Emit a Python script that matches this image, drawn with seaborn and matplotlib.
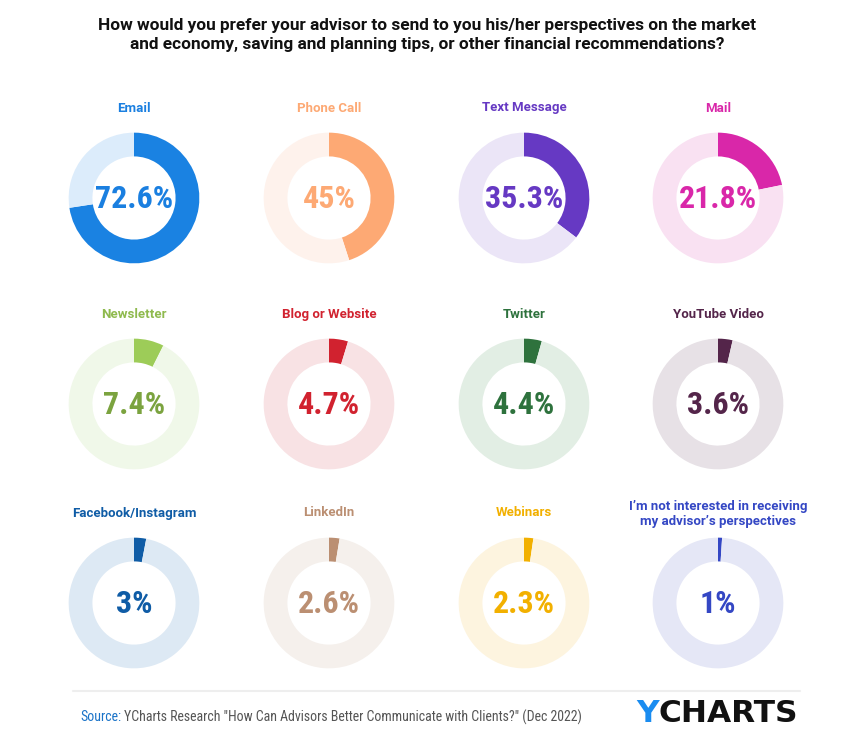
import matplotlib
matplotlib.use("Agg")
import matplotlib.pyplot as plt
import seaborn as sns
import pandas as pd

# ---- data ----
categories = ["Email", "Phone Call", "Text Message", "Mail",
              "Newsletter", "Blog or Website", "Twitter", "YouTube Video",
              "Facebook/Instagram", "LinkedIn", "Webinars",
              "I\u2019m not interested in receiving\nmy advisor\u2019s perspectives"]
values = [72.6, 45, 35.3, 21.8, 7.4, 4.7, 4.4, 3.6, 3, 2.6, 2.3, 1]
value_labels = ["72.6%", "45%", "35.3%", "21.8%", "7.4%", "4.7%", "4.4%", "3.6%",
                "3%", "2.6%", "2.3%", "1%"]
main_colors = ["#1a82e2", "#fda974", "#6639c3", "#d927a9",
               "#9dcc58", "#d1222f", "#2e723d", "#54254a",
               "#0f5ca6", "#bb8f72", "#f2b000", "#3447c4"]
light_colors = ["#dcecfb", "#fef2ec", "#ebe5f7", "#f9e1f2",
                "#f0f8e9", "#f8e2e4", "#e2eee4", "#e7e1e6",
                "#dde9f4", "#f5f0ec", "#fdf4df", "#e5e7f6"]
text_colors = ["#1a7fe0", "#fda974", "#6639c3", "#d927a9",
               "#7ba33f", "#d1222f", "#2e723d", "#54254a",
               "#0f5ca6", "#bb8f72", "#f2b000", "#3447c4"]
label_colors = ["#1a7fe0", "#fda974", "#6639c3", "#d927a9",
                "#8fba4e", "#d1222f", "#2e723d", "#54254a",
                "#0f5ca6", "#bb8f72", "#f2b000", "#3447c4"]
title = ("How would you prefer your advisor to send to you his/her perspectives on the market\n"
         "and economy, saving and planning tips, or other financial recommendations?")
source_label = "Source:"
source_text = "YCharts Research \"How Can Advisors Better Communicate with Clients?\" (Dec 2022)"

df = pd.DataFrame({"category": categories, "value": values, "label": value_labels})

sns.set_theme(style="white")
plt.rcParams["font.family"] = ["Roboto", "DejaVu Sans"]
COND = ["Roboto Condensed", "DejaVu Sans"]

W, H = 855, 739
fig = plt.figure(figsize=(W / 100, H / 100), dpi=100)
fig.patch.set_facecolor("white")

col_x = [134, 329, 524, 718]
row_y = [198, 404, 603]
R = 66

for i, row in df.iterrows():
    cx = col_x[i % 4]
    cy = row_y[i // 4]
    ax = fig.add_axes([(cx - R) / W, 1 - (cy + R) / H, 2 * R / W, 2 * R / H])
    ax.pie([row["value"], 100 - row["value"]],
           colors=[main_colors[i], light_colors[i]],
           startangle=90, counterclock=False, radius=1,
           wedgeprops=dict(width=24 / 66, linewidth=0))
    ax.set_xlim(-1.01, 1.01)
    ax.set_ylim(-1.01, 1.01)
    ax.set_aspect("equal")
    ax.axis("off")
    ax.text(0, -0.02, row["label"], ha="center", va="center",
            fontsize=23, fontweight="bold", family=COND, color=text_colors[i])
    ly = cy - 90 if "\n" not in row["category"] else cy - 89
    fig.text(cx / W, 1 - ly / H, row["category"], ha="center", va="center",
             fontsize=9.5, fontweight="bold", color=label_colors[i],
             linespacing=1.25)

# title
fig.text(427 / W, 1 - 35 / H, title, ha="center", va="center", fontsize=12.4,
         fontweight="bold", color="#111111", linespacing=1.3)

# footer line
fig.add_artist(plt.Line2D([73 / W, 800 / W], [1 - 691 / H, 1 - 691 / H],
                          color="#eeeeee", linewidth=1.5, transform=fig.transFigure))

src = fig.text(80 / W, 1 - 717 / H, source_label, ha="left", va="center",
               fontsize=10, color="#1a73c8", family=COND)
fig.canvas.draw()
bb = src.get_window_extent()
fig.text((bb.x1 + 3) / W, 1 - 717 / H, source_text, ha="left", va="center", fontsize=10,
         color="#555555", family=COND)

y = fig.text(636 / W, 1 - 714 / H, "Y", ha="left", va="center", fontsize=22.5,
             fontweight="bold", color="#1a8cf0", family=["DejaVu Sans"])
fig.canvas.draw()
yb = y.get_window_extent()
fig.text(yb.x1 / W, 1 - 714 / H, "CHARTS", ha="left", va="center", fontsize=22.5,
         fontweight="bold", color="#111111", family=["DejaVu Sans"])

fig.savefig("out.png", dpi=100, facecolor="white")
